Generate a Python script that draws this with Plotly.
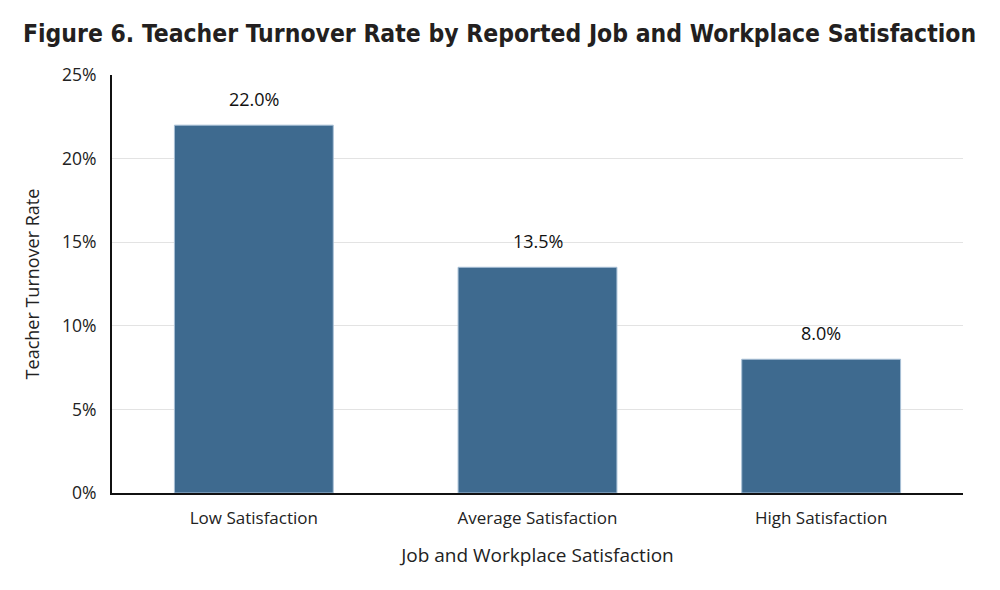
import plotly.graph_objects as go

categories = ["Low Satisfaction", "Average Satisfaction", "High Satisfaction"]
turnover_rate = [22.0, 13.5, 8.0]
tick_vals = [0, 5, 10, 15, 20, 25]
tick_text = ["0%", "5%", "10%", "15%", "20%", "25%"]

bar_color = "#3e6a8f"
text_font = "Open Sans, Liberation Sans, Arial, sans-serif"

fig = go.Figure()
fig.add_trace(go.Bar(
    x=categories,
    y=turnover_rate,
    marker=dict(color=bar_color, line=dict(color="#a9c0d6", width=1)),
))

# value labels sit well above the bar tops
for cat, val in zip(categories, turnover_rate):
    fig.add_annotation(
        x=cat, y=val, text=f"{val:.1f}%", showarrow=False,
        yanchor="bottom", yshift=12,
        font=dict(size=18, color="#111111", family=text_font),
    )

# page has an 8px body margin, so the figure is sized to fit the window
fig.update_layout(
    width=992, height=582,
    margin=dict(l=104, r=37, t=67, b=97),
    paper_bgcolor="white", plot_bgcolor="white",
    bargap=0.44,
    showlegend=False,
    title=dict(
        text="<b>Figure 6. Teacher Turnover Rate by Reported Job and Workplace Satisfaction</b>",
        x=0.4955, xanchor="center", y=0.957, yanchor="middle",
        font=dict(family="DejaVu Sans Condensed, Liberation Sans Narrow, sans-serif",
                  size=24.5, color="#231f20"),
    ),
    font=dict(family=text_font, color="#222222"),
)

fig.update_xaxes(
    showline=True, linecolor="#111111", linewidth=2,
    ticks="", tickfont=dict(size=17, color="#222222"), ticklabelstandoff=9,
    title=dict(text="Job and Workplace Satisfaction", font=dict(size=19, color="#222222"), standoff=20),
)
fig.update_yaxes(
    range=[0, 25], tickvals=tick_vals, ticktext=tick_text,
    showline=True, linecolor="#111111", linewidth=2,
    showgrid=True, gridcolor="#e3e3e3", gridwidth=1,
    zeroline=False,
    tickfont=dict(size=17.5, color="#222222"), ticklabelstandoff=10,
    title=dict(text="Teacher Turnover Rate", font=dict(size=18, color="#222222"), standoff=18),
)

fig.write_html("out.html")
